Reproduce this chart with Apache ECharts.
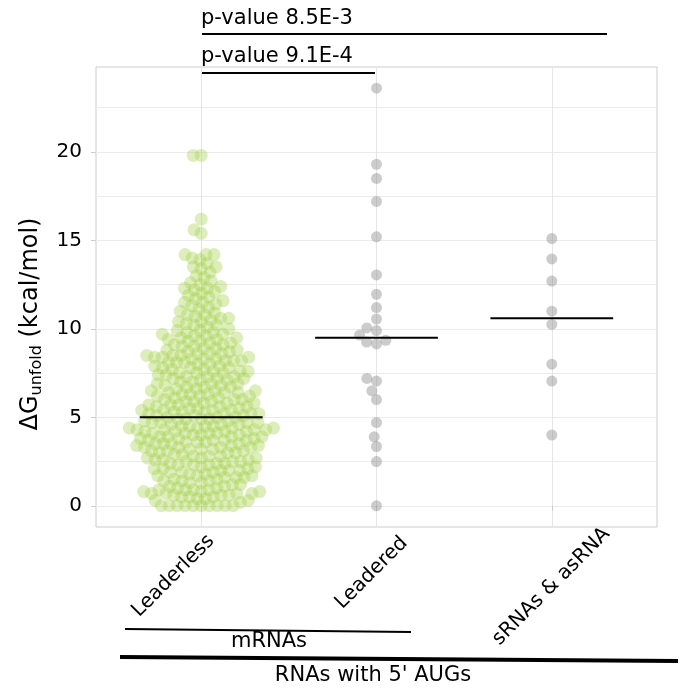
<!DOCTYPE html>
<html>
<head>
<meta charset="utf-8">
<script src="https://cdn.jsdelivr.net/npm/echarts@6/dist/echarts.min.js"></script>
<style>
  html, body { margin: 0; padding: 0; background: #fff; }
  #main { width: 681px; height: 691px; }
</style>
</head>
<body>
<div id="main"></div>
<script>
// categories on the x axis
const categories = ["Leaderless", "Leadered", "sRNAs & asRNA"];

// ΔG unfold values (kcal/mol)
const leaderless = [
  0, 0, 0, 0, 0, 0, 0, 0, 0, 0,
  0.2, 0.3, 0.3, 0.4, 0.4, 0.5, 0.5, 0.5, 0.6, 0.6, 0.6, 0.7, 0.7, 0.7, 0.7, 0.8, 0.8, 0.8, 0.9, 0.9, 0.9, 0.9, 1.0, 1.0,
  1.1, 1.1, 1.2, 1.2, 1.3, 1.3, 1.4, 1.4, 1.4, 1.5, 1.5, 1.6, 1.6, 1.6, 1.7, 1.7, 1.7, 1.8, 1.8, 1.9, 1.9, 1.9, 2.0, 2.0, 2.0,
  2.1, 2.1, 2.1, 2.2, 2.2, 2.3, 2.3, 2.3, 2.4, 2.4, 2.4, 2.5, 2.5, 2.5, 2.6, 2.6, 2.6, 2.7, 2.7, 2.7, 2.8, 2.8, 2.8, 2.9, 2.9, 3.0, 3.0, 3.0,
  3.1, 3.1, 3.1, 3.2, 3.2, 3.2, 3.3, 3.3, 3.3, 3.3, 3.4, 3.4, 3.4, 3.5, 3.5, 3.5, 3.5, 3.6, 3.6, 3.6, 3.7, 3.7, 3.7, 3.7, 3.8, 3.8, 3.8, 3.9, 3.9, 3.9, 3.9, 4.0, 4.0, 4.0,
  4.1, 4.1, 4.1, 4.1, 4.2, 4.2, 4.2, 4.2, 4.3, 4.3, 4.3, 4.3, 4.4, 4.4, 4.4, 4.4, 4.5, 4.5, 4.5, 4.5, 4.6, 4.6, 4.6, 4.7, 4.7, 4.7, 4.7, 4.8, 4.8, 4.9, 4.9, 4.9, 4.9, 5.0, 5.0, 5.0,
  5.1, 5.1, 5.1, 5.2, 5.2, 5.2, 5.2, 5.3, 5.3, 5.3, 5.4, 5.4, 5.4, 5.4, 5.5, 5.5, 5.5, 5.6, 5.6, 5.6, 5.7, 5.7, 5.7, 5.8, 5.8, 5.8, 5.9, 5.9, 5.9, 6.0, 6.0, 6.0,
  6.1, 6.1, 6.2, 6.2, 6.2, 6.3, 6.3, 6.3, 6.4, 6.4, 6.4, 6.5, 6.5, 6.5, 6.6, 6.6, 6.7, 6.7, 6.7, 6.8, 6.8, 6.9, 6.9, 6.9, 7.0, 7.0,
  7.1, 7.1, 7.2, 7.2, 7.2, 7.3, 7.3, 7.3, 7.4, 7.4, 7.5, 7.5, 7.5, 7.6, 7.6, 7.6, 7.7, 7.7, 7.8, 7.8, 7.8, 7.9, 7.9, 8.0, 8.0,
  8.1, 8.1, 8.1, 8.2, 8.2, 8.2, 8.3, 8.3, 8.3, 8.4, 8.4, 8.4, 8.5, 8.5, 8.5, 8.6, 8.6, 8.6, 8.7, 8.7, 8.8, 8.8, 8.9, 8.9, 9.0, 9.0,
  9.1, 9.1, 9.2, 9.2, 9.3, 9.3, 9.4, 9.4, 9.5, 9.5, 9.6, 9.6, 9.7, 9.7, 9.8, 9.8, 9.9, 9.9, 10.0,
  10.1, 10.2, 10.2, 10.3, 10.4, 10.4, 10.5, 10.6, 10.6, 10.7, 10.8, 10.8, 10.9, 11.0,
  11.1, 11.2, 11.3, 11.4, 11.5, 11.5, 11.6, 11.7, 11.8, 11.9, 12.0,
  12.1, 12.2, 12.3, 12.3, 12.4, 12.5, 12.6, 12.7, 12.9, 13.0,
  13.2, 13.4, 13.5, 13.5, 13.7, 13.9,
  14.0, 14.2, 14.2, 14.2,
  15.4, 15.6, 16.2, 19.8, 19.8
];
const leadered = [23.6, 19.3, 18.5, 17.2, 15.2, 13.05, 11.95, 11.2, 10.55, 10.05, 9.9, 9.65, 9.35, 9.25, 9.15,
  7.2, 7.05, 6.5, 6.0, 4.7, 3.9, 3.35, 2.5, 0.0];
const srnas = [15.1, 13.95, 12.7, 11.0, 10.25, 8.0, 7.05, 4.0];
const medians = [5.0, 9.5, 10.6];

// axis ticks
const yLabelTicks = [0, 5, 10, 15, 20];
const yGridTicks = [0, 2.5, 5, 7.5, 10, 12.5, 15, 17.5, 20, 22.5];
const xTicks = [0, 1, 2];

const FONT = "DejaVu Sans";
const GRID = { left: 96, top: 67, width: 561, height: 460 };
const X_MIN = -0.6, X_MAX = 2.6, Y_MIN = -1.2, Y_MAX = 24.8;
const pxPerX = GRID.width / (X_MAX - X_MIN);
const pxPerY = GRID.height / (Y_MAX - Y_MIN);

// beeswarm: place each point as close to the centre as it can go without overlap
function swarm(values, catIndex, d) {
  const sorted = values.slice().sort((a, b) => a - b);
  const placed = [];
  return sorted.map(v => {
    const y = v * pxPerY;
    const near = placed.filter(p => Math.abs(p.y - y) < d);
    const cands = [0];
    near.forEach(p => {
      const dx = Math.sqrt(d * d - (p.y - y) * (p.y - y));
      cands.push(p.x + dx, p.x - dx);
    });
    cands.sort((a, b) => Math.abs(a) - Math.abs(b) || a - b);
    let x = 0;
    for (const c of cands) {
      if (near.every(p => (p.x - c) * (p.x - c) + (p.y - y) * (p.y - y) >= d * d - 1e-6)) { x = c; break; }
    }
    placed.push({ x, y });
    return [catIndex + x / pxPerX, v];
  });
}

const chartDom = document.getElementById("main");
const myChart = echarts.init(chartDom);

const medianSeries = medians.map((m, i) => ({
  type: "line",
  data: [[i - 0.35, m], [i + 0.35, m]],
  symbol: "none",
  lineStyle: { color: "#000", width: 2 },
  z: 5,
  silent: true,
  animation: false
}));

// x labels sit a little right of their ticks, as in the original figure
const xLabelShift = [[10, 11], [28, 13], [55, 4]];

const option = {
  animation: false,
  grid: {
    left: GRID.left, top: GRID.top, width: GRID.width, height: GRID.height,
    show: true, borderColor: "#cccccc", borderWidth: 1
  },
  xAxis: {
    type: "value", min: X_MIN, max: X_MAX,
    axisLine: { show: false },
    axisTick: { show: true, customValues: xTicks, length: 5, lineStyle: { color: "#cccccc" } },
    axisLabel: { show: false, customValues: xTicks },
    splitLine: { show: true, lineStyle: { color: "#e6e6e6", width: 1 } }
  },
  yAxis: [
    {
      type: "value", min: Y_MIN, max: Y_MAX,
      axisLine: { show: false },
      axisTick: { show: false, customValues: yGridTicks },
      axisLabel: { show: false },
      splitLine: { show: true, lineStyle: { color: "#ebebeb", width: 1 } }
    },
    {
      type: "value", min: Y_MIN, max: Y_MAX, position: "left",
      axisLine: { show: false },
      axisTick: { show: true, customValues: yLabelTicks, length: 5, lineStyle: { color: "#cccccc" } },
      axisLabel: { customValues: yLabelTicks, margin: 14, fontSize: 20, fontFamily: FONT, color: "#000" },
      splitLine: { show: false }
    }
  ],
  series: [
    {
      type: "scatter",
      data: swarm(leaderless, 0, 8),
      symbolSize: 13,
      itemStyle: { color: "rgba(160,208,70,0.45)" },
      z: 2
    },
    {
      type: "scatter",
      data: swarm(leadered, 1, 10).concat(swarm(srnas, 2, 10)),
      symbolSize: 11,
      itemStyle: { color: "rgba(140,140,140,0.55)" },
      z: 2
    }
  ].concat(medianSeries),
  graphic: [
    // y axis title
    {
      type: "text", x: 31, y: 324, rotation: Math.PI / 2,
      style: {
        text: "{a|ΔG}{b|unfold}{a| (kcal/mol)}",
        align: "center", verticalAlign: "middle",
        rich: {
          a: { fontSize: 24, fontFamily: FONT, fill: "#000" },
          b: { fontSize: 16, fontFamily: FONT, fill: "#000", padding: [12, 0, 0, 0] }
        }
      }
    },
    // significance brackets
    { type: "line", shape: { x1: 202, y1: 34, x2: 607, y2: 34 }, style: { stroke: "#000", lineWidth: 2 } },
    { type: "text", x: 201, y: 19, style: { text: "p-value 8.5E-3", fontSize: 21, fontFamily: FONT, fill: "#000", verticalAlign: "middle" } },
    { type: "line", shape: { x1: 202, y1: 73, x2: 375, y2: 73 }, style: { stroke: "#000", lineWidth: 2 } },
    { type: "text", x: 201, y: 57, style: { text: "p-value 9.1E-4", fontSize: 21, fontFamily: FONT, fill: "#000", verticalAlign: "middle" } },
    // group brackets below the axis
    { type: "line", shape: { x1: 125, y1: 629, x2: 411, y2: 632 }, style: { stroke: "#000", lineWidth: 2 } },
    { type: "text", x: 269, y: 642, style: { text: "mRNAs", fontSize: 21, fontFamily: FONT, fill: "#000", align: "center", verticalAlign: "middle" } },
    { type: "line", shape: { x1: 120, y1: 657, x2: 678, y2: 661 }, style: { stroke: "#000", lineWidth: 4 } },
    { type: "text", x: 373, y: 676, style: { text: "RNAs with 5' AUGs", fontSize: 21, fontFamily: FONT, fill: "#000", align: "center", verticalAlign: "middle" } }
  ]
};

myChart.setOption(option);

// rotated category labels, anchored from the axis scale
const labelGraphics = categories.map((name, i) => {
  const p = myChart.convertToPixel({ xAxisIndex: 0, yAxisIndex: 0 }, [xTicks[i], Y_MIN]);
  return {
    type: "text",
    x: p[0] + xLabelShift[i][0],
    y: p[1] + xLabelShift[i][1],
    rotation: Math.PI / 4,
    style: { text: name, fontSize: 20, fontFamily: FONT, fill: "#000", align: "right", verticalAlign: "middle" }
  };
});
myChart.setOption({ graphic: option.graphic.concat(labelGraphics) });
</script>
</body>
</html>
